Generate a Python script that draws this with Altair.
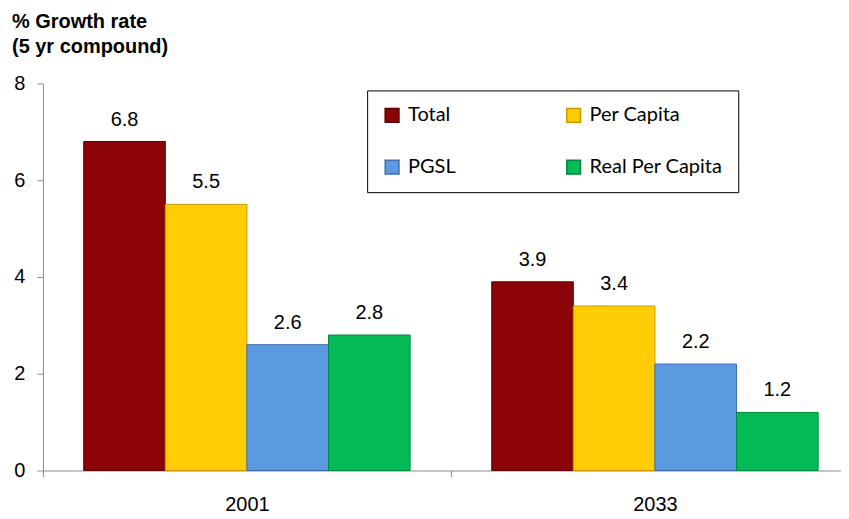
import altair as alt
import pandas as pd

years = ["2001", "2033"]
series = ["Total", "Per Capita", "PGSL", "Real Per Capita"]
values_2001 = [6.8, 5.5, 2.6, 2.8]
values_2033 = [3.9, 3.4, 2.2, 1.2]
fill_colors = ["#8B0508", "#FFCC05", "#5C9AE0", "#05BB58"]
stroke_colors = ["#5a0304", "#c99a00", "#3c70b0", "#03873f"]
y_ticks = [0, 2, 4, 6, 8]

rows = []
for yr, vals in zip(years, [values_2001, values_2033]):
    for s, v in zip(series, vals):
        rows.append({"year": yr, "series": s, "value": v, "label": f"{v:.1f}"})
df = pd.DataFrame(rows)

axis_font = "Liberation Sans Narrow, Arial Narrow, Liberation Sans, Arial"

x_enc = alt.X(
    "year:N",
    sort=years,
    scale=alt.Scale(range=[0, 818], paddingInner=0, paddingOuter=0),
    axis=alt.Axis(
        title=None, labelAngle=0, tickBand="extent", domainColor="#8c8c8c",
        tickColor="#8c8c8c", tickSize=6, labelFont=axis_font, labelFontSize=20,
        labelColor="black", labelPadding=18,
    ),
)
xoff_enc = alt.XOffset("series:N", sort=series,
                       scale=alt.Scale(paddingOuter=0.5, paddingInner=0))
y_enc = alt.Y(
    "value:Q",
    scale=alt.Scale(domain=[0, 8], nice=False),
    axis=alt.Axis(
        values=y_ticks, title=None, grid=False, domainColor="#8c8c8c",
        tickColor="#8c8c8c", tickSize=6, labelFont=axis_font, labelFontSize=20,
        labelColor="black", labelPadding=12,
    ),
)

bars = alt.Chart(df).mark_bar(strokeWidth=1).encode(
    x=x_enc,
    xOffset=xoff_enc,
    y=y_enc,
    color=alt.Color(
        "series:N", sort=series,
        scale=alt.Scale(domain=series, range=fill_colors),
        legend=alt.Legend(
            title=None, orient="none", legendX=325, legendY=7, columns=2,
            direction="horizontal",
            gridAlign="all", symbolType="square", symbolSize=190,
            labelFont="Lato", labelFontSize=20, labelColor="black",
            labelOffset=6, strokeColor="black", fillColor="white",
            padding=15, rowPadding=32, columnPadding=22,
        ),
    ),
    stroke=alt.Stroke(
        "series:N", sort=series,
        scale=alt.Scale(domain=series, range=stroke_colors),
        legend=None,
    ),
)

labels = alt.Chart(df).mark_text(
    baseline="bottom", dy=-12, font="Liberation Sans", fontSize=20, color="black"
).encode(
    x=alt.X("year:N", sort=years),
    xOffset=alt.XOffset("series:N", sort=series),
    y=alt.Y("value:Q"),
    text="label:N",
)

chart = alt.layer(bars, labels).properties(
    width=800,
    height=388,
    autosize=alt.AutoSizeParams(type="none"),
    padding={"left": 35, "top": 75, "right": 0, "bottom": 45},
    title=alt.Title(
        ["% Growth rate", "(5 yr compound)"], anchor="start", frame="group",
        dx=-31, font="Liberation Sans", fontSize=20, fontWeight="bold",
        lineHeight=25, offset=17, color="black",
    ),
).configure_view(stroke=None)

chart.save("out.html", embed_options={"renderer": "svg", "actions": False})
